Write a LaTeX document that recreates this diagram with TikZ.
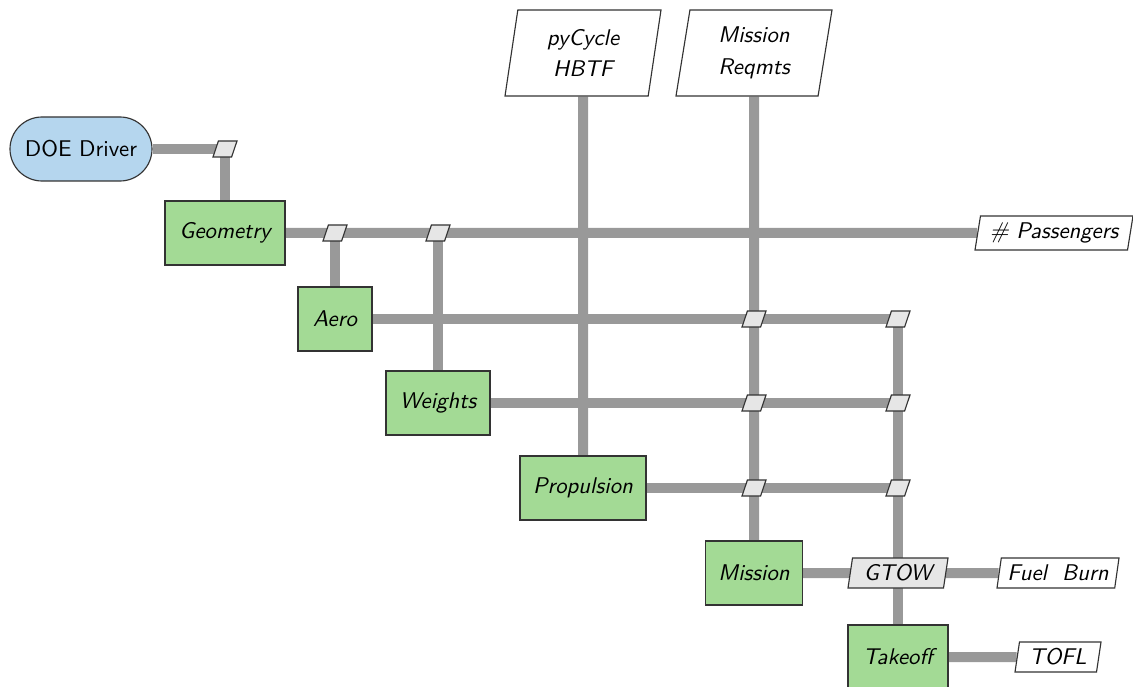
\documentclass[tikz,border=0pt]{standalone}
\usetikzlibrary{shapes.geometric,backgrounds}
\renewcommand{\familydefault}{\sfdefault}
\newdimen\pxu \pxu=0.44pt
\definecolor{drvblue}{HTML}{B5D6EE}
\definecolor{fgreen}{HTML}{A3DA95}
\definecolor{jgray}{HTML}{E6E6E6}
\definecolor{lgray}{HTML}{999999}
\tikzset{
  driverbox/.style={draw=black!80, line width=0.5pt, fill=drvblue, rounded corners=32\pxu, minimum width=142\pxu, minimum height=64\pxu, inner sep=0pt, font=\normalsize},
  funcbox/.style={draw=black!80, line width=0.5pt, fill=fgreen, minimum height=64\pxu, inner sep=0pt, font=\itshape},
  databox/.style={trapezium, trapezium left angle=75, trapezium right angle=105, trapezium stretches body=true, draw=black!80, line width=0.5pt, fill=white, inner sep=0pt, font=\itshape, align=center},
  juncbox/.style={trapezium, trapezium left angle=70, trapezium right angle=110, trapezium stretches body=true, draw=black!80, line width=0.5pt, fill=jgray, minimum width=24\pxu, minimum height=16\pxu, inner sep=0pt},
  conn/.style={draw=lgray, line width=10\pxu}
}
\begin{document}
\begin{tikzpicture}[x=\pxu, y=-\pxu]
\useasboundingbox (0,0) rectangle (1133,687);
% nodes
\node[driverbox] (doe) at (81,149) {DOE Driver};
\node[juncbox] (j0) at (225,149) {\phantom{i}};
\node[funcbox, minimum width=120\pxu] (geom) at (225,233) {Geometry};
\node[funcbox, minimum width=74\pxu] (aero) at (335,319) {Aero};
\node[funcbox, minimum width=104\pxu] (wts) at (438,403) {Weights};
\node[funcbox, minimum width=126\pxu] (prop) at (583,488) {Propulsion};
\node[funcbox, minimum width=97\pxu] (miss) at (754,573) {Mission};
\node[funcbox, minimum width=100\pxu] (tko) at (898,657) {Takeoff};
\node[databox, minimum width=156\pxu, minimum height=86\pxu] (pyc) at (583,53) {pyCycle\\[2pt]HBTF};
\node[databox, minimum width=156\pxu, minimum height=86\pxu] (req) at (754,53) {Mission\\[2pt]Reqmts};
\node[databox, minimum width=158\pxu, minimum height=34\pxu] (pass) at (1054,233) {\# Passengers};
\node[databox, minimum width=122\pxu, minimum height=30\pxu] (fuel) at (1058,573) {Fuel\ \ Burn};
\node[databox, minimum width=86\pxu, minimum height=30\pxu] (tofl) at (1058,657) {TOFL};
\node[databox, fill=jgray, minimum width=100\pxu, minimum height=30\pxu] (gtow) at (898,573) {GTOW};
\node[juncbox] (j1) at (335,233) {\phantom{i}};
\node[juncbox] (j2) at (438,233) {\phantom{i}};
\node[juncbox] (ja1) at (754,319) {\phantom{i}};
\node[juncbox] (ja2) at (898,319) {\phantom{i}};
\node[juncbox] (jw1) at (754,403) {\phantom{i}};
\node[juncbox] (jw2) at (898,403) {\phantom{i}};
\node[juncbox] (jp1) at (754,488) {\phantom{i}};
\node[juncbox] (jp2) at (898,488) {\phantom{i}};
% connectors
\begin{pgfonlayer}{background}
\draw[conn] (doe.east) -- (j0.center);
\draw[conn] (j0.center) -- (geom.north);
\draw[conn] (geom.east) -- (j1.center) -- (j2.center) -- (pass.west);
\draw[conn] (j1.center) -- (aero.north);
\draw[conn] (j2.center) -- (wts.north);
\draw[conn] (pyc.south) -- (prop.north);
\draw[conn] (req.south) -- (ja1.center) -- (jw1.center) -- (jp1.center) -- (miss.north);
\draw[conn] (aero.east) -- (ja1.center) -- (ja2.center);
\draw[conn] (wts.east) -- (jw1.center) -- (jw2.center);
\draw[conn] (prop.east) -- (jp1.center) -- (jp2.center);
\draw[conn] (ja2.center) -- (jw2.center) -- (jp2.center) -- (gtow.center) -- (tko.north);
\draw[conn] (miss.east) -- (gtow.center) -- (fuel.west);
\draw[conn] (tko.east) -- (tofl.west);
\end{pgfonlayer}
\end{tikzpicture}
\end{document}
